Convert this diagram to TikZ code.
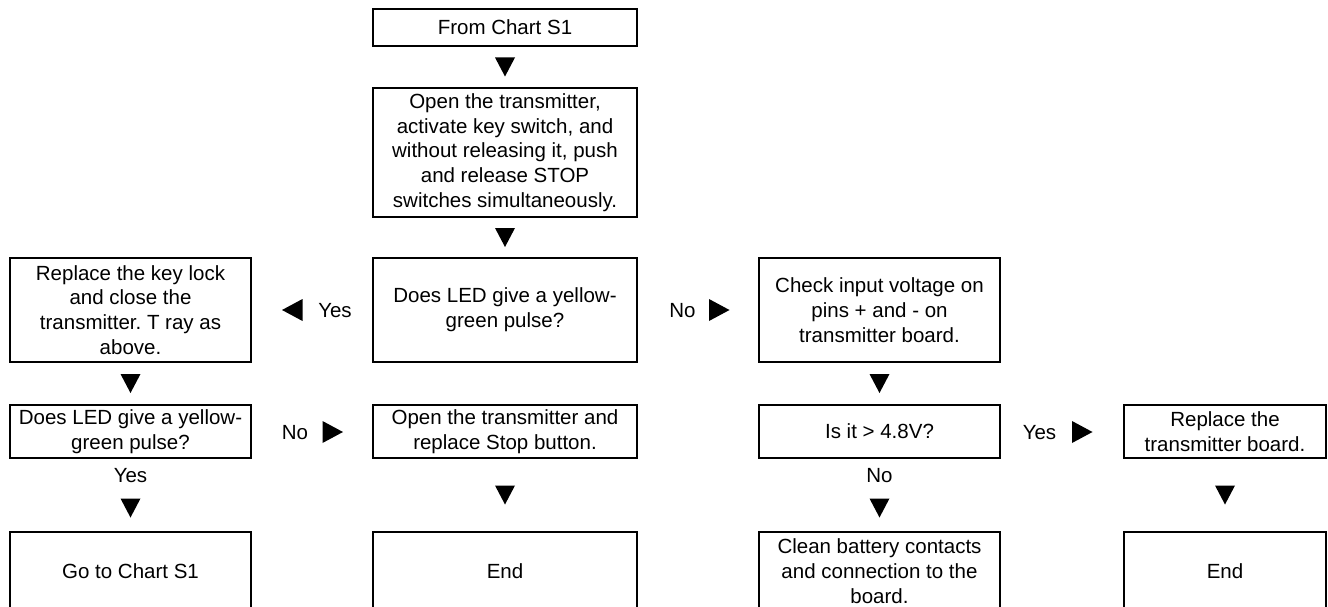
\documentclass[tikz,border=0pt]{standalone}
\usepackage{fontspec}
\setmainfont{Liberation Sans}
\usetikzlibrary{calc}
\frenchspacing
\newcommand\mytridown[1]{\fill (#1) +(-10,-9.5) -- +(10,-9.5) -- +(0,9.5) -- cycle;}
\newcommand\mytriright[1]{\fill (#1) +(-10,-11) -- +(-10,11) -- +(10.5,0) -- cycle;}
\newcommand\mytrileft[1]{\fill (#1) +(10,-11) -- +(10,11) -- +(-10.5,0) -- cycle;}
\begin{document}
\begin{tikzpicture}[x=1pt,y=-1pt,
  txt/.style={font=\fontsize{20.5}{24.8}\selectfont},
  box/.style={txt, draw, line width=2pt, rectangle, inner sep=0pt, align=center},
  lbl/.style={txt, inner sep=0pt, anchor=base},
  cA/.style={minimum width=241pt}, cB/.style={minimum width=264pt},
  cC/.style={minimum width=241pt}, cD/.style={minimum width=202pt},
  r0/.style={minimum height=37pt}, r1/.style={minimum height=129pt},
  r2/.style={minimum height=104pt}, r3/.style={minimum height=53pt},
  r4/.style={minimum height=78pt}]
\useasboundingbox (0,0) rectangle (1328,607);
\clip (0,0) rectangle (1328,607);
% boxes
\node[box,cB,r0] (from) at (505,27.5) {From Chart S1};
\node[box,cB,r1] (open) at (505,152.5) {Open the transmitter,\\activate key switch, and\\without releasing it, push\\and release STOP\\switches simultaneously.};
\node[box,cA,r2] (replock) at (130.5,310) {Replace the key lock\\and close the\\transmitter. T ray as\\above.};
\node[box,cB,r2] (led1) at (505,310) {Does LED give a yellow-\\green pulse?};
\node[box,cC,r2] (check) at (879.5,310) {Check input voltage on\\pins + and - on\\transmitter board.};
\node[box,cA,r3] (led2) at (130.5,431.5) {Does LED give a yellow-\\green pulse?};
\node[box,cB,r3] (stopbtn) at (505,431.5) {Open the transmitter and\\replace Stop button.};
\node[box,cC,r3] (volt) at (879.5,431.5) {Is it > 4.8V?};
\node[box,cD,r3] (repboard) at (1225,431.5) {Replace the\\transmitter board.};
\node[box,cA,r4] (goto) at (130.5,571) {Go to Chart S1};
\node[box,cB,r4] (end1) at (505,571) {End};
\node[box,cC,r4] (clean) at (879.5,571) {Clean battery contacts\\and connection to the\\board.};
\node[box,cD,r4] (end2) at (1225,571) {End};
% labels
\node[lbl] (yes1) at (335,317) {Yes};
\node[lbl] (no1) at (682.5,317) {No};
\node[lbl] (no2) at (295,439) {No};
\node[lbl] (yes2) at (1039.5,439) {Yes};
\node[lbl] (yes3) at (130.5,482) {Yes};
\node[lbl] (no3) at (879.5,482) {No};
% arrowheads
\coordinate (t1) at ($(from.south)!0.5!(open.north)$);
\coordinate (t2) at ($(open.south)!0.5!(led1.north)$);
\coordinate (t3) at ($(replock.south)!0.5!(led2.north)$);
\coordinate (t4) at ($(check.south)!0.5!(volt.north)$);
\coordinate (t5) at ($(stopbtn.south)!0.5!(end1.north)$);
\coordinate (t6) at ($(repboard.south)!0.5!(end2.north)$);
\coordinate (t7) at (130.5,508);
\coordinate (t8) at (879.5,508);
\coordinate (h1) at (292.5,310);
\coordinate (h2) at (719,310);
\coordinate (h3) at (332.5,432);
\coordinate (h4) at (1082,432);
\mytridown{t1}
\mytridown{t2}
\mytridown{t3}
\mytridown{t4}
\mytridown{t5}
\mytridown{t6}
\mytridown{t7}
\mytridown{t8}
\mytrileft{h1}
\mytriright{h2}
\mytriright{h3}
\mytriright{h4}
\end{tikzpicture}
\end{document}
